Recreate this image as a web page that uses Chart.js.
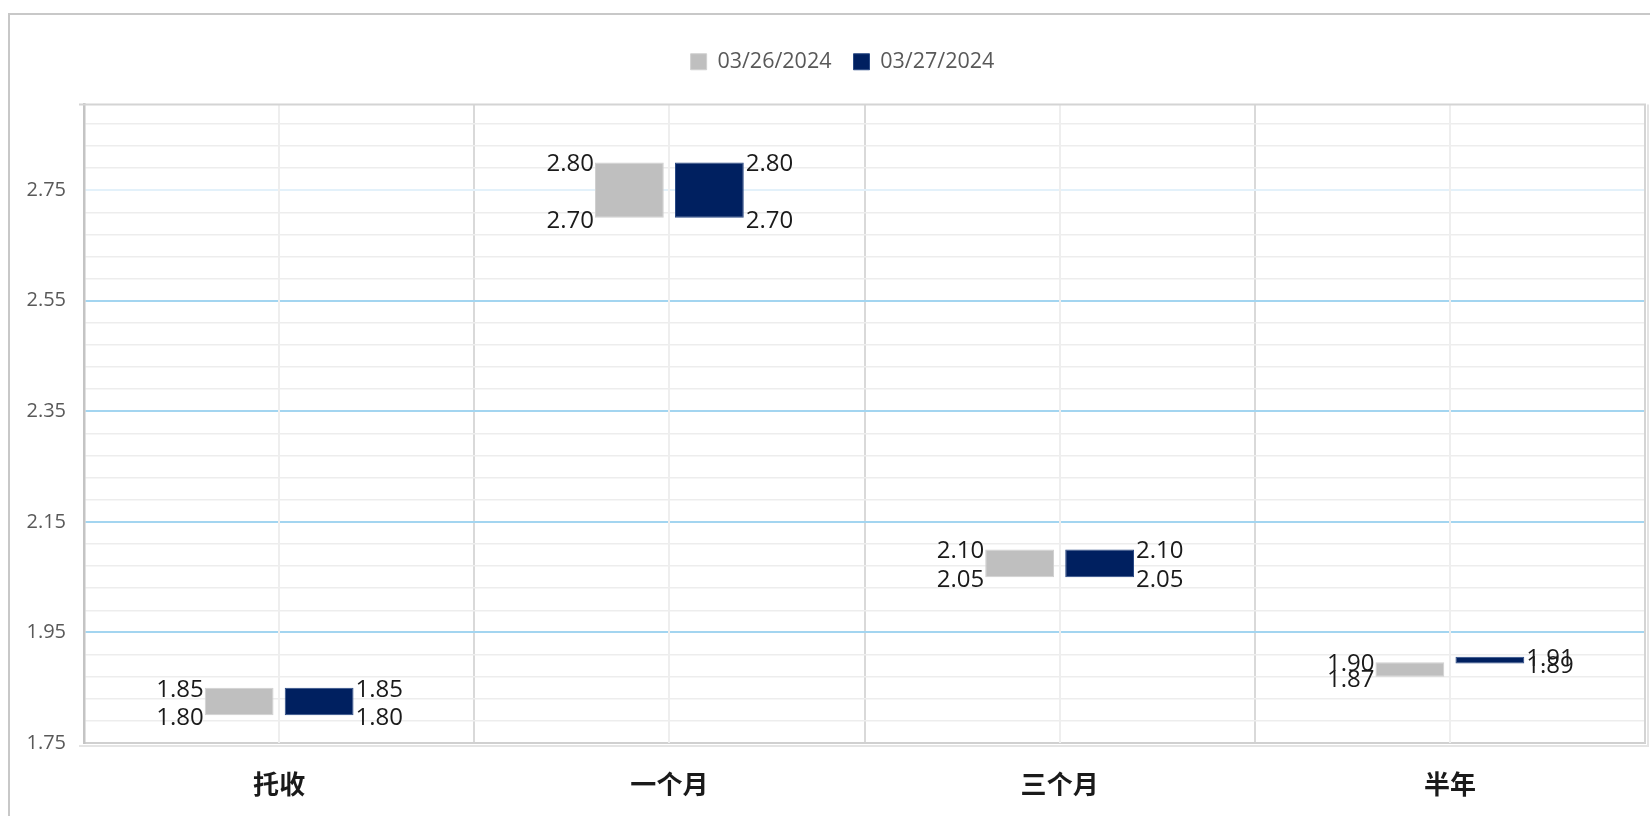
<!DOCTYPE html>
<html>
<head>
<meta charset="utf-8">
<script src="https://cdn.jsdelivr.net/npm/chart.js@4.4.1/dist/chart.umd.min.js"></script>
<style>
  html, body { margin: 0; padding: 0; background: #fff; overflow: hidden; }
  #frame { position: absolute; left: 8px; top: 13px; width: 1700px; height: 900px; border: 2px solid #c8c8c8; }
  #wrap { position: absolute; left: 0; top: 0; width: 1650px; height: 816px; }
</style>
</head>
<body>
<div id="frame"></div>
<div id="wrap"><canvas id="myChart" width="1650" height="816"></canvas></div>
<script>
// datos
const categories = ['托收', '一个月', '三个月', '半年'];
const seriesNames = ['03/26/2024', '03/27/2024'];
const rates0326 = [[1.80, 1.85], [2.70, 2.80], [2.05, 2.10], [1.87, 1.896]];
const rates0327 = [[1.80, 1.85], [2.70, 2.80], [2.05, 2.10], [1.894, 1.906]];
const majorTicks = [1.75, 1.95, 2.15, 2.35, 2.55, 2.75];
const yMin = 1.75;
const yMax = 2.905;
const minorStep = 0.04;

const sans = '"Open Sans", "Noto Sans", sans-serif';
const cjk = '"Noto Sans CJK SC", sans-serif';

const isMajor = v => majorTicks.includes(+v.toFixed(2));

// etiquetas arriba/abajo de cada barra flotante
const rangeLabels = {
    id: 'rangeLabels',
    afterDatasetsDraw(chart) {
        const ctx = chart.ctx;
        ctx.save();
        ctx.font = '24px ' + sans;
        ctx.fillStyle = '#1a1a1a';
        ctx.textBaseline = 'middle';
        chart.data.datasets.forEach((ds, di) => {
            const meta = chart.getDatasetMeta(di);
            meta.data.forEach((bar, i) => {
                const lo = Math.min(...ds.data[i]);
                const hi = Math.max(...ds.data[i]);
                const top = Math.min(bar.y, bar.base);
                const bottom = Math.max(bar.y, bar.base);
                let x;
                if (di === 0) {
                    ctx.textAlign = 'right';
                    x = bar.x - bar.width / 2 - 1;
                } else {
                    ctx.textAlign = 'left';
                    x = bar.x + bar.width / 2 + 2;
                }
                ctx.fillText(hi.toFixed(2), x, top + 2);
                ctx.fillText(lo.toFixed(2), x, bottom + 3);
            });
        });
        ctx.restore();
    }
};

// mas aire bajo la leyenda y leyenda algo a la derecha
const legendSpace = {
    id: 'legendSpace',
    beforeInit(chart) {
        const fit = chart.legend.fit;
        chart.legend.fit = function () {
            fit.bind(chart.legend)();
            this.height += 22;
        };
    },
    afterLayout(chart) {
        chart.legend.left += 15;
        chart.legend.right += 15;
    }
};

// lineas centrales de categoria y marco del area
const plotFrame = {
    id: 'plotFrame',
    beforeDatasetsDraw(chart) {
        const { ctx, chartArea: a } = chart;
        const x = chart.scales.x;
        ctx.save();
        ctx.strokeStyle = '#eeeeee';
        ctx.lineWidth = 2;
        categories.forEach((c, i) => {
            const px = Math.round(x.getPixelForValue(i));
            ctx.beginPath();
            ctx.moveTo(px, a.top);
            ctx.lineTo(px, a.bottom);
            ctx.stroke();
        });
        ctx.restore();
    },
    afterDraw(chart) {
        const { ctx, chartArea: a } = chart;
        ctx.save();
        ctx.strokeStyle = '#d4d4d4';
        ctx.lineWidth = 2;
        ctx.beginPath();
        ctx.moveTo(a.left - 5, a.top);
        ctx.lineTo(a.right, a.top);
        ctx.lineTo(a.right, a.bottom);
        ctx.stroke();
        ctx.strokeStyle = '#e4e4e4';
        ctx.beginPath();
        ctx.moveTo(a.right + 3, a.top);
        ctx.lineTo(a.right + 3, a.bottom + 3);
        ctx.lineTo(a.left - 5, a.bottom + 3);
        ctx.stroke();
        ctx.restore();
    }
};

const ctx = document.getElementById('myChart').getContext('2d');

new Chart(ctx, {
    type: 'bar',
    data: {
        labels: categories,
        datasets: [
            {
                label: seriesNames[0],
                data: rates0326,
                backgroundColor: '#bfbfbf',
                borderColor: '#d0d0d0',
                borderWidth: 1,
                borderSkipped: false
            },
            {
                label: seriesNames[1],
                data: rates0327,
                backgroundColor: '#002060',
                borderColor: '#2a4a85',
                borderWidth: 1,
                borderSkipped: false
            }
        ]
    },
    options: {
        responsive: false,
        animation: false,
        devicePixelRatio: 1,
        categoryPercentage: 0.41,
        barPercentage: 0.86,
        layout: { padding: { left: 10, right: 5, top: 29, bottom: 0 } },
        plugins: {
            legend: {
                position: 'top',
                labels: {
                    boxWidth: 16,
                    boxHeight: 16,
                    padding: 22,
                    color: '#595959',
                    font: { size: 21.5, family: sans }
                }
            },
            tooltip: { enabled: false }
        },
        scales: {
            x: {
                afterFit(axis) { axis.height = 73; },
                ticks: {
                    padding: 26,
                    color: '#1a1a1a',
                    font: { size: 26, weight: 'bold', family: cjk }
                },
                grid: { drawTicks: false, color: '#d9d9d9', lineWidth: 2, offset: true },
                border: { color: '#d0d0d0', width: 2 }
            },
            y: {
                min: yMin,
                max: yMax,
                afterBuildTicks(axis) {
                    const t = [];
                    for (let k = 0; yMin + k * minorStep <= yMax + 1e-9; k++) {
                        t.push({ value: +(yMin + k * minorStep).toFixed(2) });
                    }
                    axis.ticks = t;
                },
                afterFit(axis) { axis.width = 74; },
                ticks: {
                    autoSkip: false,
                    padding: 18,
                    color: '#595959',
                    font: { size: 20, family: sans },
                    callback: v => isMajor(v) ? v.toFixed(2) : ''
                },
                grid: {
                    drawTicks: false,
                    color: c => {
                        const v = c.tick.value;
                        if (!isMajor(v)) return '#ededed';
                        return v > 2.7 ? '#e3f1fa' : '#a3d5f0';
                    },
                    lineWidth: c => isMajor(c.tick.value) ? 2 : 1.5
                },
                border: { color: '#c4c4c4', width: 2.5 }
            }
        }
    },
    plugins: [legendSpace, plotFrame, rangeLabels]
});
</script>
</body>
</html>
